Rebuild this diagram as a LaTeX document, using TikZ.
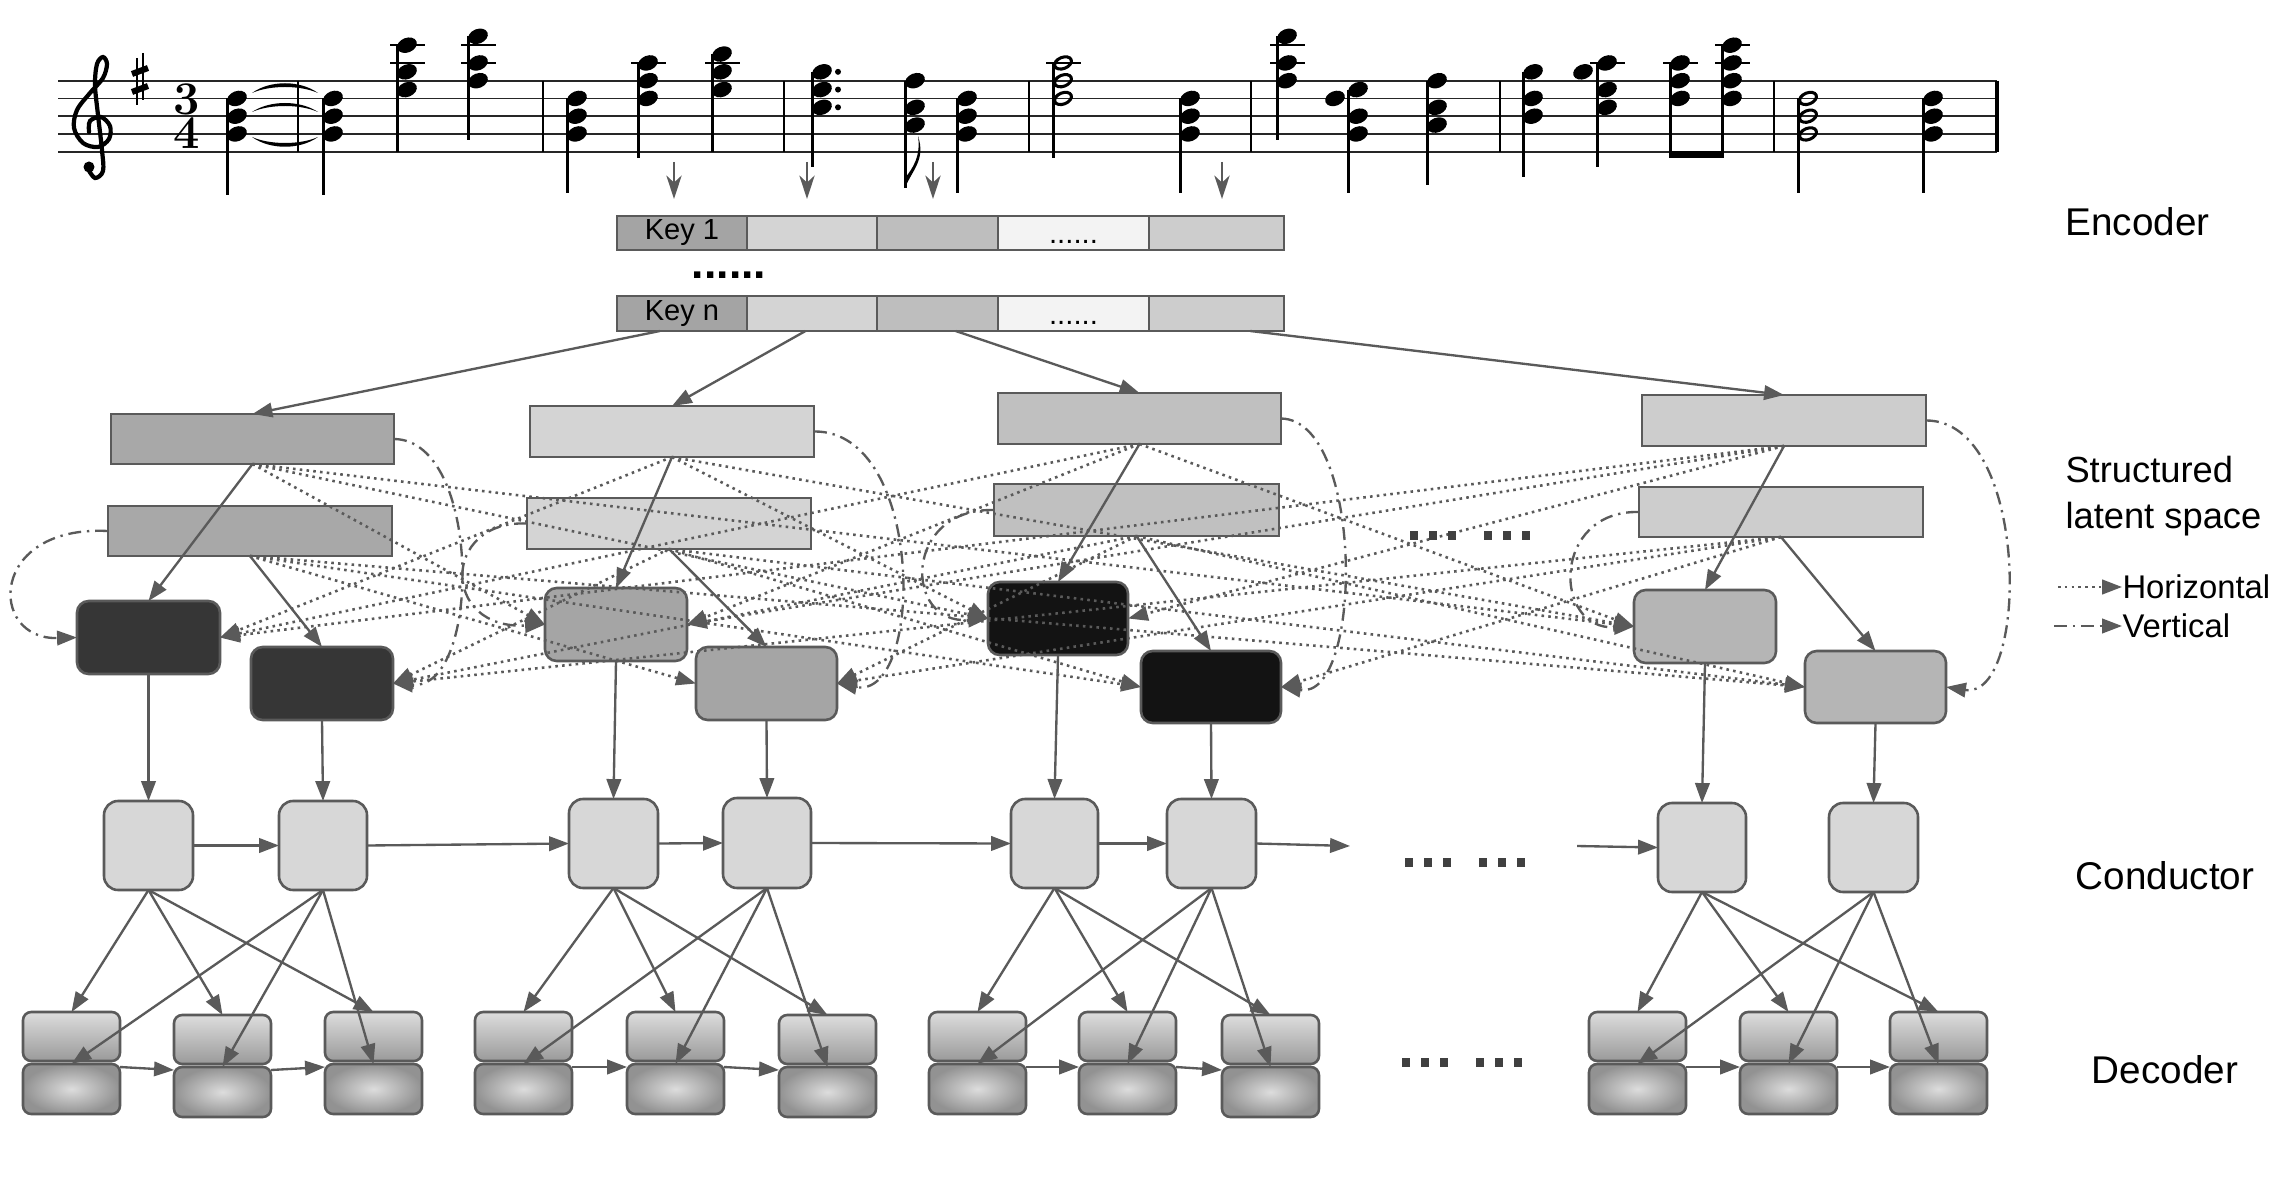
\documentclass[tikz,border=0pt]{standalone}
\usepackage{fontspec}
\newfontfamily\lab{Liberation Sans}
\usetikzlibrary{arrows.meta,fit,calc}

\definecolor{lineg}{HTML}{5A5A5A}
\definecolor{kA}{HTML}{A4A4A4}
\definecolor{kB}{HTML}{D4D4D4}
\definecolor{kC}{HTML}{BEBEBE}
\definecolor{kD}{HTML}{F3F3F3}
\definecolor{kE}{HTML}{CDCDCD}
\definecolor{zg1}{HTML}{A8A8A8}
\definecolor{zg2}{HTML}{D4D4D4}
\definecolor{zg3}{HTML}{C0C0C0}
\definecolor{zg4}{HTML}{CDCDCD}
\definecolor{ng1}{HTML}{363636}
\definecolor{ng2}{HTML}{A5A5A5}
\definecolor{ng3}{HTML}{131313}
\definecolor{ng4}{HTML}{B5B5B5}
\definecolor{condfill}{HTML}{D7D7D7}
\definecolor{dlight}{HTML}{DDDDDD}
\definecolor{ddark}{HTML}{9A9A9A}
\definecolor{ddark2}{HTML}{929292}

% music helpers (x of notehead, staff step above bottom line)
\newcommand\mnote[2]{%
  \pgfmathsetmacro\mny{151.7-8.875*(#2)}%
  \fill[rotate around={22:(#1,\mny)}] (#1,\mny) ellipse [x radius=10.2, y radius=7.3];}
\newcommand\mhollow[2]{%
  \pgfmathsetmacro\mny{151.7-8.875*(#2)}%
  \draw[line width=1.3pt, rotate around={22:(#1,\mny)}] (#1,\mny) ellipse [x radius=8.8, y radius=5.6];}
\newcommand\mstem[3]{%
  \pgfmathsetmacro\mny{151.7-8.875*(#2)}%
  \draw[stemline] ({#1-9.8},\mny) -- ({#1-9.8},#3);}
\newcommand\mchord[4]{\foreach \q in {#2}{\mnote{#1}{\q}}\mstem{#1}{#3}{#4}}
\newcommand\mhchord[4]{\foreach \q in {#2}{\mhollow{#1}{\q}}\mstem{#1}{#3}{#4}}
\newcommand\mledger[2]{%
  \pgfmathsetmacro\mny{151.7-8.875*(#2)}%
  \draw[ledg] ({#1-17},\mny) -- ({#1+18},\mny);}
\newcommand\mdots[2]{\foreach \o in {0,19,38,74,93,112}{\fill[black!75] ({#1+\o},{#2-4.5}) rectangle ++(8,9);}}

\begin{document}
\begin{tikzpicture}[x=0.15mm,y=-0.15mm,
  staffl/.style={line width=0.75pt, black!85},
  barl/.style={line width=1.1pt, black},
  stemline/.style={line width=1.2pt, black},
  ledg/.style={line width=1pt, black},
  ln/.style={draw=lineg, line width=1pt},
  arr/.style={ln, -{Triangle[length=8.5pt,width=6.2pt]}},
  harr/.style={arr, line width=1.1pt, dash pattern=on 1.1pt off 1.8pt},
  varr/.style={arr, dash pattern=on 5.5pt off 2.5pt on 1pt off 2.5pt},
  inarr/.style={draw=lineg, line width=1.1pt, -{Stealth[length=10pt,width=6.5pt,inset=3pt]}},
  kcell/.style={draw=lineg, line width=1pt, inner sep=0pt, outer sep=0pt},
  zrect/.style={draw=lineg, line width=1.1pt, inner sep=0pt, outer sep=0pt},
  znode/.style={draw=lineg, line width=1.1pt, rounded corners=5pt, inner sep=0pt, outer sep=0pt},
  cnode/.style={draw=lineg, line width=1.1pt, rounded corners=6pt, fill=condfill, inner sep=0pt, outer sep=0pt},
  dtop/.style={draw=lineg, line width=1.1pt, rounded corners=3.5pt, top color=dlight, bottom color=ddark, inner sep=0pt, outer sep=0pt},
  dbot/.style={draw=lineg, line width=1.1pt, rounded corners=3.5pt, inner color=dlight, outer color=ddark2, inner sep=0pt, outer sep=0pt},
  lblL/.style={font=\lab\fontsize{16.5}{19}\selectfont, inner sep=0pt},
  lblM/.style={font=\lab\fontsize{15.5}{19.5}\selectfont, inner sep=0pt},
  lblS/.style={font=\lab\fontsize{14}{16}\selectfont, inner sep=0pt},
  keyfont/.style={font=\lab\fontsize{12.4}{14}\selectfont, inner sep=0pt}
]
\fill[white] (0,0) rectangle (2287,1194);
\useasboundingbox (0,0) rectangle (2287,1194);

% ---------------- score ----------------
\foreach \k in {0,...,4} \draw[staffl] (58,{80.7+17.75*\k}) -- (1997,{80.7+17.75*\k});
\foreach \bx in {298,543,784,1029,1251,1500,1774} \draw[barl] (\bx,80.7) -- (\bx,151.7);
\draw[line width=1.5pt] (1997,80.7) -- (1997,151.7);

% treble clef
\draw[line width=1.8pt, line cap=round] plot[smooth, tension=0.55] coordinates {(88,169) (95,178) (103,171) (102,150) (98,115) (95,85) (97,64) (103,57) (107,64) (103,78) (90,93) (77,110) (74,128) (83,143) (98,147) (109,139) (110,126) (101,117) (90,121) (89,132)};
\fill (89,167) circle [radius=5.5];
% key signature
\draw[line width=0.8pt] (137,58) -- (137,105) (143,53) -- (143,100);
\draw[line width=2.6pt] (132,74) -- (148,68) (132,92) -- (148,86);
% time signature
\node[font=\fontsize{20}{14.2}\selectfont\bfseries, inner sep=0pt, align=center] (tsig) at (186.5,116) {3\\4};

% chords
\mchord{237}{2,4,6}{6}{195}
\mchord{333}{2,4,6}{6}{195}
\fill (252,93) .. controls (270,80) and (300,80) .. (318,93) .. controls (300,85) and (270,85) .. (252,93) -- cycle;
\fill (252,112) .. controls (270,100) and (300,100) .. (318,112) .. controls (300,104) and (270,104) .. (252,112) -- cycle;
\fill (252,137) .. controls (270,150) and (300,150) .. (318,137) .. controls (300,145) and (270,145) .. (252,137) -- cycle;
\mledger{407}{10}\mledger{407}{12}
\mchord{407}{7,9,12}{12}{152}
\mledger{478}{10}\mledger{478}{12}
\mchord{478}{8,10,13}{13}{140}
\mchord{577}{2,4,6}{6}{193}
\mledger{648}{10}
\mchord{648}{6,8,10}{10}{158}
\mledger{722}{10}
\mchord{722}{7,9,11}{11}{152}
\mchord{822}{5,7,9}{9}{167}
\foreach \q in {5,7,9} \fill (838,{151.7-8.875*\q}) circle [radius=3];
\mchord{915}{3,5,8}{8}{188}
\fill (905,188) .. controls (912,170) and (926,160) .. (918,136) .. controls (921,156) and (913,168) .. (905,178) -- cycle;
\mchord{967}{2,4,6}{6}{193}
\mledger{1063}{10}
\mhchord{1063}{6,8,10}{10}{158}
\mchord{1190}{2,4,6}{6}{193}
\mledger{1287}{10}\mledger{1287}{12}
\mchord{1287}{8,10,13}{13}{140}
\mchord{1358}{2,4,7}{7}{193}
\mnote{1335}{6}
\mchord{1437}{3,5,8}{8}{185}
\mchord{1533}{4,6,9}{9}{177}
\mledger{1607}{10}
\mchord{1607}{5,7,10}{10}{167}
\mnote{1583}{9}
\mledger{1680}{10}
\mchord{1680}{6,8,10}{10}{158}
\mledger{1732}{10}\mledger{1732}{12}
\mchord{1732}{6,8,10,12}{12}{158}
\fill (1669.5,151) rectangle (1723,158.5);
\mhchord{1808}{2,4,6}{6}{193}
\mchord{1933}{2,4,6}{6}{193}

% inputs from the score
\foreach \i/\x in {1/674,2/807,3/933,4/1222}{
  \coordinate (nin\i) at (\x,162);
  \coordinate (nout\i) at (\x,199);
  \draw[inarr] (nin\i) -- (nout\i);
}

% ---------------- encoder ----------------
\node[kcell, fill=kA, fit={(617,216)(747,250)}] (k1a) {};
\node[kcell, fill=kB, fit={(747,216)(877,250)}] (k1b) {};
\node[kcell, fill=kC, fit={(877,216)(998,250)}] (k1c) {};
\node[kcell, fill=kD, fit={(998,216)(1149,250)}] (k1d) {};
\node[kcell, fill=kE, fit={(1149,216)(1284,250)}] (k1e) {};
\node[keyfont] (k1t) at (k1a.center) {Key 1};
\node[font=\lab\fontsize{12.5}{13}\selectfont, anchor=base, inner sep=0pt] (k1dots) at ($(k1d.south)+(0,-6)$) {......};

\node[font=\lab\bfseries\fontsize{19}{19}\selectfont, inner sep=0pt] (rowdots) at (729,275) {......};

\node[kcell, fill=kA, fit={(617,296)(747,331)}] (kna) {};
\node[kcell, fill=kB, fit={(747,296)(877,331)}] (knb) {};
\node[kcell, fill=kC, fit={(877,296)(998,331)}] (knc) {};
\node[kcell, fill=kD, fit={(998,296)(1149,331)}] (knd) {};
\node[kcell, fill=kE, fit={(1149,296)(1284,331)}] (kne) {};
\node[keyfont] (knt) at (kna.center) {Key n};
\node[font=\lab\fontsize{12.5}{13}\selectfont, anchor=base, inner sep=0pt] (kndots) at ($(knd.south)+(0,-6)$) {......};

% ---------------- structured latent space ----------------
\node[zrect, fill=zg1, fit={(111,414)(394,464)}] (T1) {};
\node[zrect, fill=zg1, fit={(108,506)(392,556)}] (B1) {};
\node[zrect, fill=zg2, fit={(530,406)(814,457)}] (T2) {};
\node[zrect, fill=zg2, fit={(527,498)(811,549)}] (B2) {};
\node[zrect, fill=zg3, fit={(998,393)(1281,444)}] (T3) {};
\node[zrect, fill=zg3, fit={(994,484)(1279,536)}] (B3) {};
\node[zrect, fill=zg4, fit={(1642,395)(1926,446)}] (T4) {};
\node[zrect, fill=zg4, fit={(1639,487)(1923,537)}] (B4) {};

\node[znode, fill=ng1, fit={(77,601)(220,674)}] (L1) {};
\node[znode, fill=ng1, fit={(251,647)(393,720)}] (R1) {};
\node[znode, fill=ng2, fit={(545,588)(687,661)}] (L2) {};
\node[znode, fill=ng2, fit={(696,647)(837,720)}] (R2) {};
\node[znode, fill=ng3, fit={(988,582)(1128,655)}] (L3) {};
\node[znode, fill=ng3, fit={(1141,651)(1281,723)}] (R3) {};
\node[znode, fill=ng4, fit={(1634,590)(1776,663)}] (L4) {};
\node[znode, fill=ng4, fit={(1805,651)(1946,723)}] (R4) {};

% encoder to latent groups
\draw[arr] ($(kna.south west)!0.33!(kna.south east)$) -- (T1.north);
\draw[arr] ($(knb.south west)!0.45!(knb.south east)$) -- (T2.north);
\draw[arr] ($(knc.south west)!0.65!(knc.south east)$) -- (T3.north);
\draw[arr] ($(kne.south west)!0.75!(kne.south east)$) -- (T4.north);

% within each group
\foreach \i in {1,2,3,4}{
  \draw[arr] (T\i.south) -- (L\i.north);
  \draw[arr] (B\i.south) -- (R\i.north);
}

% horizontal links
\foreach \s/\t in {T1/L2.west, T1/L3.west, T1/L4.west,
                   T2/L1.east, T2/L3.west, T2/L4.west,
                   T3/L1.east, T3/L2.east, T3/L4.west,
                   T4/L1.east, T4/L2.east, T4/L3.east,
                   B1/R2.west, B1/R3.west, B1/R4.west,
                   B2/R1.east, B2/R3.west, B2/R4.west,
                   B3/R1.east, B3/R2.east, B3/R4.west,
                   B4/R1.east, B4/R2.east, B4/R3.east}
  \draw[harr] (\s.south) -- (\t);

% vertical links
\draw[varr] (T1.east) .. controls (482,440) and (482,690) .. (R1.east);
\draw[varr] (B1.west) .. controls (-12,525) and (-12,640) .. (L1.west);
\draw[varr] (T2.east) .. controls (925,430) and (925,700) .. (R2.east);
\draw[varr] (B2.west) .. controls (441,520) and (441,630) .. (L2.west);
\draw[varr] (T3.east) .. controls (1364,420) and (1364,700) .. (R3.east);
\draw[varr] (B3.west) .. controls (903,508) and (903,625) .. (L3.west);
\draw[varr] (T4.east) .. controls (2030,420) and (2030,700) .. (R4.east);
\draw[varr] (B4.west) .. controls (1552,510) and (1552,630) .. (L4.west);

\mdots{1410}{535}

% ---------------- conductor ----------------
\foreach \i/\xa/\ya/\xb/\yb in {1/104/801/193/890, 2/279/801/367/890, 3/569/799/658/888, 4/723/798/811/888,
                                5/1011/799/1098/888, 6/1167/799/1256/888, 7/1658/803/1746/892, 8/1829/803/1918/892}
  \node[cnode, fit={(\xa,\ya)(\xb,\yb)}] (c\i) {};

\draw[arr] (L1.south) -- (c1.north);
\draw[arr] (R1.south) -- (c2.north);
\draw[arr] (L2.south) -- (c3.north);
\draw[arr] (R2.south) -- (c4.north);
\draw[arr] (L3.south) -- (c5.north);
\draw[arr] (R3.south) -- (c6.north);
\draw[arr] (L4.south) -- (c7.north);
\draw[arr] (R4.south) -- (c8.north);

\coordinate (cgapA) at (1350,846);
\coordinate (cgapB) at (1577,846);
\draw[arr] (c1.east) -- (c2.west);
\draw[arr] (c2.east) -- (c3.west);
\draw[arr] (c3.east) -- (c4.west);
\draw[arr] (c4.east) -- (c5.west);
\draw[arr] (c5.east) -- (c6.west);
\draw[arr] (c6.east) -- (cgapA);
\draw[arr] (cgapB) -- (c7.west);
\mdots{1405}{862}

% ---------------- decoder ----------------
\foreach \i/\xl/\dy in {1/23/0, 2/174/3, 3/325/0, 4/475/0, 5/627/0, 6/779/3,
                        7/929/0, 8/1079/0, 9/1222/3, 10/1589/0, 11/1740/0, 12/1890/0}{
  \node[dtop, fit={(\xl,1012+\dy)(\xl+97,1061+\dy)}] (dt\i) {};
  \node[dbot, fit={(\xl,1064+\dy)(\xl+97,1114+\dy)}] (db\i) {};
}
\foreach \g in {1,2,3,4}{
  \pgfmathtruncatemacro\ca{2*\g-1}
  \pgfmathtruncatemacro\cb{2*\g}
  \pgfmathtruncatemacro\da{3*\g-2}
  \pgfmathtruncatemacro\db{3*\g-1}
  \pgfmathtruncatemacro\dc{3*\g}
  \foreach \d in {\da,\db,\dc}{
    \draw[arr] (c\ca.south) -- (dt\d.north);
    \draw[arr] (c\cb.south) -- (db\d.north);
  }
  \draw[arr] ([yshift=-0.45mm]db\da.north east) -- ([yshift=-0.45mm]db\db.north west);
  \draw[arr] ([yshift=-0.45mm]db\db.north east) -- ([yshift=-0.45mm]db\dc.north west);
}
\mdots{1402}{1062}

% ---------------- labels and legend ----------------
\node[lblL, anchor=west] (encl) at (2065,222) {Encoder};
\node[lblM, anchor=west, align=left] (latl) at (2065,496) {Structured\\latent space};
\node[lblL] (conl) at (2165,876) {Conductor};
\node[lblL] (decl) at (2165,1070) {Decoder};

\node[lblS, anchor=west] (hlab) at (2122,587) {Horizontal};
\node[lblS, anchor=west] (vlab) at (2122,626) {Vertical};
\coordinate (legh) at (2058,587);
\coordinate (legv) at (2054,626);
\draw[harr] (legh) -- (hlab.west);
\draw[varr] (legv) -- (vlab.west);
\end{tikzpicture}
\end{document}
